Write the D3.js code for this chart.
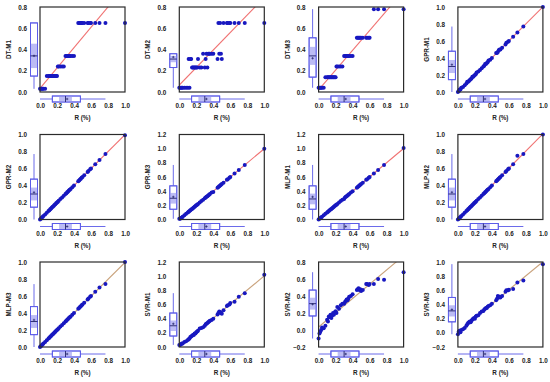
<!DOCTYPE html>
<html>
<head>
<meta charset="utf-8">
<script src="https://cdn.jsdelivr.net/npm/d3@7"></script>
<style>
  body { margin: 0; background: #fff; }
  svg { display: block; font-family: "Liberation Sans", Arial, sans-serif; }
</style>
</head>
<body>
<svg width="550" height="382"></svg>
<script>
// measured values R (%), shared x of every panel
var R = [0.00,0.01,0.02,0.03,0.04,0.06,0.08,0.10,0.11,0.12,0.13,0.14,0.15,0.16,0.17,0.18,0.19,0.20,0.21,0.22,0.24,0.26,0.28,0.30,0.31,0.32,0.33,0.34,0.35,0.36,0.38,0.40,0.45,0.46,0.47,0.48,0.49,0.50,0.52,0.56,0.57,0.59,0.60,0.65,0.70,0.77,1.00];

// predictions of each model
var DT_M1 = [0.03,0.03,0.03,0.03,0.03,0.03,0.15,0.15,0.15,0.15,0.15,0.15,0.15,0.15,0.15,0.15,0.15,0.15,0.24,0.24,0.24,0.24,0.24,0.34,0.34,0.34,0.34,0.34,0.34,0.34,0.34,0.34,0.65,0.65,0.65,0.65,0.65,0.65,0.65,0.65,0.65,0.65,0.65,0.65,0.65,0.65,0.65];
var DT_M2 = [0.04,0.04,0.04,0.04,0.04,0.04,0.04,0.04,0.31,0.04,0.31,0.31,0.23,0.23,0.23,0.23,0.23,0.23,0.23,0.31,0.23,0.23,0.36,0.23,0.31,0.36,0.23,0.36,0.36,0.36,0.36,0.36,0.31,0.65,0.36,0.65,0.36,0.31,0.65,0.65,0.65,0.65,0.65,0.65,0.65,0.65,0.65];
var DT_M3 = [0.04,0.04,0.04,0.04,0.04,0.04,0.14,0.14,0.14,0.14,0.14,0.14,0.14,0.14,0.14,0.14,0.14,0.14,0.24,0.24,0.24,0.24,0.24,0.34,0.34,0.34,0.34,0.34,0.34,0.34,0.34,0.34,0.51,0.51,0.51,0.51,0.51,0.51,0.51,0.51,0.51,0.51,0.51,0.78,0.78,0.78,0.78];
var GPR_M1 = [0.00,0.01,0.03,0.03,0.05,0.06,0.08,0.10,0.12,0.12,0.13,0.14,0.15,0.16,0.18,0.18,0.19,0.20,0.21,0.23,0.24,0.26,0.28,0.30,0.31,0.33,0.33,0.34,0.35,0.37,0.38,0.40,0.46,0.46,0.47,0.49,0.50,0.50,0.52,0.56,0.58,0.59,0.60,0.65,0.70,0.77,1.00];
var GPR_M2 = [0.00,0.01,0.02,0.03,0.04,0.06,0.08,0.10,0.11,0.12,0.13,0.14,0.15,0.16,0.17,0.18,0.19,0.20,0.21,0.22,0.24,0.26,0.28,0.30,0.31,0.32,0.33,0.34,0.35,0.36,0.38,0.40,0.45,0.46,0.47,0.48,0.49,0.50,0.52,0.56,0.57,0.59,0.60,0.65,0.70,0.77,0.99];
var GPR_M3 = [0.01,0.01,0.02,0.03,0.04,0.06,0.08,0.10,0.11,0.12,0.13,0.14,0.15,0.16,0.17,0.18,0.19,0.20,0.21,0.22,0.24,0.26,0.28,0.30,0.31,0.32,0.33,0.34,0.35,0.36,0.38,0.39,0.45,0.46,0.47,0.48,0.49,0.50,0.52,0.56,0.57,0.59,0.60,0.65,0.70,0.77,1.00];
var MLP_M1 = [0.00,0.01,0.02,0.03,0.04,0.06,0.08,0.10,0.11,0.12,0.13,0.14,0.15,0.16,0.17,0.18,0.19,0.20,0.21,0.22,0.24,0.26,0.28,0.29,0.31,0.32,0.33,0.34,0.35,0.36,0.38,0.40,0.45,0.46,0.47,0.48,0.49,0.50,0.52,0.56,0.57,0.59,0.60,0.65,0.70,0.77,1.01];
var MLP_M2 = [0.00,0.01,0.02,0.03,0.04,0.06,0.08,0.10,0.11,0.12,0.13,0.14,0.15,0.16,0.17,0.18,0.19,0.20,0.21,0.22,0.24,0.26,0.28,0.30,0.31,0.32,0.33,0.34,0.35,0.36,0.38,0.40,0.45,0.46,0.47,0.48,0.49,0.50,0.52,0.56,0.57,0.59,0.60,0.65,0.75,0.77,1.00];
var MLP_M3 = [0.00,0.01,0.02,0.03,0.04,0.06,0.08,0.10,0.11,0.12,0.13,0.14,0.15,0.16,0.17,0.18,0.19,0.20,0.21,0.22,0.24,0.26,0.28,0.30,0.31,0.32,0.33,0.34,0.35,0.36,0.38,0.40,0.45,0.46,0.47,0.48,0.49,0.50,0.52,0.56,0.57,0.59,0.60,0.65,0.70,0.74,1.00];
var SVR_M1 = [0.03,0.03,0.04,0.05,0.05,0.07,0.08,0.10,0.11,0.12,0.14,0.15,0.16,0.17,0.17,0.19,0.19,0.21,0.22,0.23,0.26,0.27,0.28,0.30,0.32,0.33,0.34,0.35,0.36,0.37,0.38,0.40,0.46,0.48,0.50,0.49,0.48,0.47,0.52,0.58,0.59,0.60,0.62,0.64,0.71,0.76,1.02];
var SVR_M2 = [-0.10,-0.04,-0.02,0.00,0.03,0.02,0.05,0.12,0.10,0.16,0.15,0.18,0.14,0.17,0.20,0.18,0.21,0.22,0.20,0.27,0.25,0.29,0.31,0.31,0.33,0.34,0.36,0.35,0.37,0.39,0.40,0.42,0.47,0.48,0.49,0.47,0.48,0.46,0.47,0.54,0.54,0.53,0.54,0.54,0.60,0.59,0.68];
var SVR_M3 = [-0.02,0.02,0.03,0.01,0.04,0.05,0.07,0.10,0.12,0.14,0.15,0.16,0.15,0.17,0.19,0.20,0.21,0.20,0.23,0.24,0.25,0.28,0.30,0.31,0.33,0.34,0.35,0.35,0.37,0.38,0.39,0.41,0.46,0.48,0.52,0.50,0.51,0.50,0.52,0.58,0.60,0.60,0.61,0.62,0.71,0.74,0.97];

var names = ["DT-M1","DT-M2","DT-M3","GPR-M1","GPR-M2","GPR-M3","MLP-M1","MLP-M2","MLP-M3","SVR-M1","SVR-M2","SVR-M3"];
var series = [DT_M1, DT_M2, DT_M3, GPR_M1, GPR_M2, GPR_M3, MLP_M1, MLP_M2, MLP_M3, SVR_M1, SVR_M2, SVR_M3];
var yDomains = [[0,0.8],[0,0.8],[0,0.8],[0,1],[0,1],[0,1.2],[0,1.2],[0,1],[0,1],[0,1.2],[-0.2,0.8],[-0.2,1]];
var xTicks = [0,0.2,0.4,0.6,0.8,1.0];

var svg = d3.select("svg");
var size = 85;
var boxColor = "#5a5ae8";
var bandColor = "#bcbcf4";

function boxStats(v){
  var s = v.slice().sort(d3.ascending);
  var q1 = d3.quantile(s, 0.25), med = d3.quantile(s, 0.5), q3 = d3.quantile(s, 0.75);
  var iqr = q3 - q1;
  var lo = d3.min(s.filter(d => d >= q1 - 1.5 * iqr));
  var hi = d3.max(s.filter(d => d <= q3 + 1.5 * iqr));
  var notch = 1.57 * iqr / Math.sqrt(s.length);
  return {q1: q1, med: med, q3: q3, lo: lo, hi: hi, mean: d3.mean(s),
          n1: Math.max(q1, med - notch), n2: Math.min(q3, med + notch)};
}

function fit(xs, ys){
  var mx = d3.mean(xs), my = d3.mean(ys);
  var sxy = d3.sum(xs, (d, i) => (d - mx) * (ys[i] - my));
  var sxx = d3.sum(xs, d => (d - mx) * (d - mx));
  var b = sxy / sxx;
  return {a: my - b * mx, b: b};
}

function panel(i){
  var col = i % 4, row = Math.floor(i / 4);
  var left = 40 + col * 139.3, top = 7 + row * 127.5;
  var ys = series[i];
  var dom = yDomains[i];

  var x = d3.scaleLinear().domain([0, 1]).range([0, size]);
  var y = d3.scaleLinear().domain(dom).range([size, 0]);

  var g = svg.append("g").attr("transform", "translate(" + left + "," + top + ")");

  g.append("clipPath").attr("id", "clip" + i)
    .append("rect").attr("width", size).attr("height", size);

  // fit line
  var f = fit(R, ys);
  var lineColor = row < 2 ? "#f07272" : "#c9a27c";
  g.append("line")
    .attr("clip-path", "url(#clip" + i + ")")
    .attr("x1", x(0)).attr("y1", y(f.a))
    .attr("x2", x(1)).attr("y2", y(f.a + f.b))
    .attr("stroke", lineColor).attr("stroke-width", 1.1);

  // points
  g.append("g").selectAll("circle")
    .data(R)
    .join("circle")
    .attr("cx", d => x(d))
    .attr("cy", (d, j) => y(ys[j]))
    .attr("r", 2)
    .attr("fill", "#1818c0");

  g.append("rect")
    .attr("width", size).attr("height", size)
    .attr("fill", "none").attr("stroke", "#2b2b2b").attr("stroke-width", 1.2);

  // vertical box plot of the model
  var sy = boxStats(ys);
  var bx = -6, bw = 7;
  var vb = g.append("g").attr("stroke", boxColor).attr("stroke-width", 0.9);
  vb.append("line").attr("x1", bx).attr("x2", bx).attr("y1", y(sy.lo)).attr("y2", y(sy.q1));
  vb.append("line").attr("x1", bx).attr("x2", bx).attr("y1", y(sy.q3)).attr("y2", y(sy.hi));
  vb.append("rect").attr("x", bx - bw / 2).attr("width", bw)
    .attr("y", y(sy.q3)).attr("height", y(sy.q1) - y(sy.q3)).attr("fill", "#fff");
  vb.append("rect").attr("x", bx - bw / 2).attr("width", bw)
    .attr("y", y(sy.n2)).attr("height", y(sy.n1) - y(sy.n2)).attr("fill", bandColor).attr("stroke", "none");
  vb.append("rect").attr("x", bx - bw / 2).attr("width", bw)
    .attr("y", y(sy.q3)).attr("height", y(sy.q1) - y(sy.q3)).attr("fill", "none");
  vb.append("line").attr("x1", bx - bw / 2).attr("x2", bx + bw / 2)
    .attr("y1", y(sy.med)).attr("y2", y(sy.med)).attr("stroke", "#22226a");
  vb.append("path").attr("d", "M" + (bx - 1.2) + "," + y(sy.mean) + "h2.4M" + bx + "," + (y(sy.mean) - 1.2) + "v2.4")
    .attr("stroke", "#22226a").attr("stroke-width", 0.7);

  // horizontal box plot of R
  var sx = boxStats(R);
  var by = size + 7, bh = 6;
  var hb = g.append("g").attr("stroke", boxColor).attr("stroke-width", 0.9);
  hb.append("line").attr("y1", by).attr("y2", by).attr("x1", x(sx.lo)).attr("x2", x(sx.q1));
  hb.append("line").attr("y1", by).attr("y2", by).attr("x1", x(sx.q3)).attr("x2", x(sx.hi));
  hb.append("rect").attr("y", by - bh / 2).attr("height", bh)
    .attr("x", x(sx.q1)).attr("width", x(sx.q3) - x(sx.q1)).attr("fill", "#fff");
  hb.append("rect").attr("y", by - bh / 2).attr("height", bh)
    .attr("x", x(sx.n1)).attr("width", x(sx.n2) - x(sx.n1)).attr("fill", bandColor).attr("stroke", "none");
  hb.append("rect").attr("y", by - bh / 2).attr("height", bh)
    .attr("x", x(sx.q1)).attr("width", x(sx.q3) - x(sx.q1)).attr("fill", "none");
  hb.append("line").attr("y1", by - bh / 2).attr("y2", by + bh / 2)
    .attr("x1", x(sx.med)).attr("x2", x(sx.med)).attr("stroke", "#22226a");
  hb.append("path").attr("d", "M" + (x(sx.mean) - 1.2) + "," + by + "h2.4M" + x(sx.mean) + "," + (by - 1.2) + "v2.4")
    .attr("stroke", "#22226a").attr("stroke-width", 0.7);

  // axes (labels only)
  var yTicks = d3.range(dom[0], dom[1] + 0.001, 0.2);
  var ya = g.append("g").attr("transform", "translate(-12,0)")
    .call(d3.axisLeft(y).tickValues(yTicks).tickFormat(d3.format(".1f")).tickSize(0).tickPadding(1));
  var xa = g.append("g").attr("transform", "translate(0," + (size + 11) + ")")
    .call(d3.axisBottom(x).tickValues(xTicks).tickFormat(d3.format(".1f")).tickSize(0).tickPadding(1));
  [ya, xa].forEach(a => {
    a.select(".domain").remove();
    a.selectAll("text").attr("font-size", 6.3).attr("font-weight", "bold")
      .attr("font-family", "Liberation Sans, Arial, sans-serif").attr("fill", "#222");
  });

  g.append("text")
    .attr("x", size / 2).attr("y", size + 28)
    .attr("text-anchor", "middle")
    .attr("font-size", 6.3).attr("font-weight", "bold").attr("fill", "#222")
    .text("R (%)");

  g.append("text")
    .attr("transform", "translate(-29," + (size / 2) + ") rotate(-90)")
    .attr("text-anchor", "middle")
    .attr("font-size", 6.3).attr("font-weight", "bold").attr("fill", "#222")
    .text(names[i]);
}

d3.range(12).forEach(panel);
</script>
</body>
</html>
